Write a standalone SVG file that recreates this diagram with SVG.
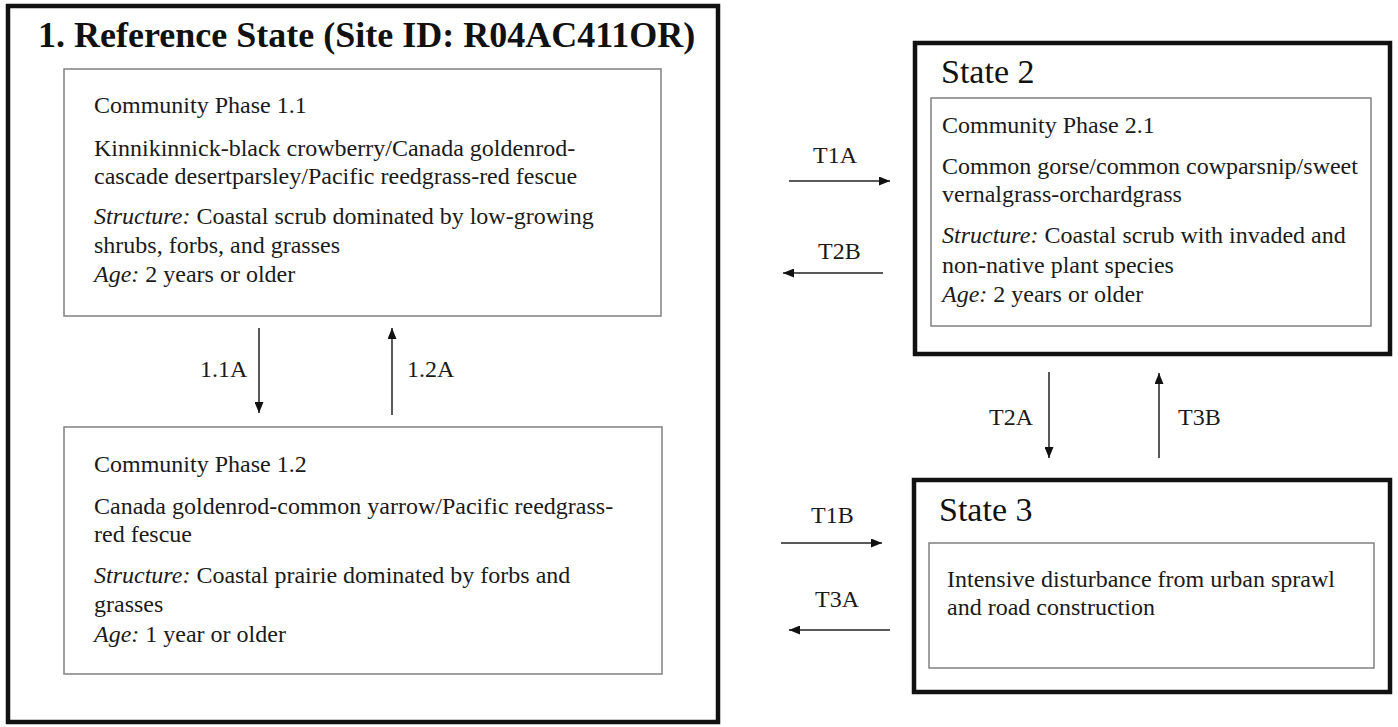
<svg xmlns="http://www.w3.org/2000/svg" width="1398" height="727" viewBox="0 0 1398 727" font-family="Liberation Serif, serif">
<style>
.state{fill:none;stroke:#111;stroke-width:4.5}
.phase{fill:#fff;stroke:#808080;stroke-width:1.5}
.conn line{stroke:#222;stroke-width:1.5}
</style>
<defs>
<marker id="ah" markerUnits="userSpaceOnUse" markerWidth="11" markerHeight="9" refX="11" refY="4.5" orient="auto">
<path d="M0,0 L11,4.5 L0,9 z" fill="#111"/>
</marker>
</defs>
<rect width="1398" height="727" fill="#fff"/>

<g id="state1">
<rect class="state" x="8" y="6" width="710" height="716" stroke-width="5"/>
<text x="38" y="47" font-family="Liberation Serif, serif" font-size="36" font-weight="bold" fill="#111">1. Reference State (Site ID: R04AC411OR)</text>
</g>

<g id="phase1-1" font-family="Liberation Serif, serif" font-size="24" fill="#1a1a1a">
<rect class="phase" x="64" y="69" width="597" height="247"/>
<text x="94" y="113" font-family="Liberation Serif, serif">Community Phase 1.1</text>
<text x="94" y="156" font-family="Liberation Serif, serif">Kinnikinnick-black crowberry/Canada goldenrod-</text>
<text x="94" y="184" font-family="Liberation Serif, serif">cascade desertparsley/Pacific reedgrass-red fescue</text>
<text x="94" y="224" font-family="Liberation Serif, serif"><tspan font-style="italic">Structure:</tspan> Coastal scrub dominated by low-growing</text>
<text x="94" y="253" font-family="Liberation Serif, serif">shrubs, forbs, and grasses</text>
<text x="94" y="282" font-family="Liberation Serif, serif"><tspan font-style="italic">Age:</tspan> 2 years or older</text>
</g>

<g id="phase1-2" font-family="Liberation Serif, serif" font-size="24" fill="#1a1a1a">
<rect class="phase" x="64" y="427" width="598" height="247"/>
<text x="94" y="472" font-family="Liberation Serif, serif">Community Phase 1.2</text>
<text x="94" y="514" font-family="Liberation Serif, serif">Canada goldenrod-common yarrow/Pacific reedgrass-</text>
<text x="94" y="542" font-family="Liberation Serif, serif">red fescue</text>
<text x="94" y="583" font-family="Liberation Serif, serif"><tspan font-style="italic">Structure:</tspan> Coastal prairie dominated by forbs and</text>
<text x="94" y="612" font-family="Liberation Serif, serif">grasses</text>
<text x="94" y="642" font-family="Liberation Serif, serif"><tspan font-style="italic">Age:</tspan> 1 year or older</text>
</g>

<g id="state2" font-family="Liberation Serif, serif" font-size="24" fill="#1a1a1a">
<rect class="state" x="915" y="43" width="475" height="311"/>
<text x="941" y="83" font-family="Liberation Serif, serif" font-size="34" fill="#111">State 2</text>
<rect class="phase" x="931" y="98" width="440" height="228"/>
<text x="942" y="133" font-family="Liberation Serif, serif">Community Phase 2.1</text>
<text x="942" y="174" font-family="Liberation Serif, serif">Common gorse/common cowparsnip/sweet</text>
<text x="942" y="202" font-family="Liberation Serif, serif">vernalgrass-orchardgrass</text>
<text x="942" y="243" font-family="Liberation Serif, serif"><tspan font-style="italic">Structure:</tspan> Coastal scrub with invaded and</text>
<text x="942" y="273" font-family="Liberation Serif, serif">non-native plant species</text>
<text x="942" y="302" font-family="Liberation Serif, serif"><tspan font-style="italic">Age:</tspan> 2 years or older</text>
</g>

<g id="state3" font-family="Liberation Serif, serif" font-size="24" fill="#1a1a1a">
<rect class="state" x="914" y="480" width="476" height="212"/>
<text x="939" y="521" font-family="Liberation Serif, serif" font-size="34" fill="#111">State 3</text>
<rect class="phase" x="929" y="543" width="445" height="125"/>
<text x="947" y="587" font-family="Liberation Serif, serif">Intensive disturbance from urban sprawl</text>
<text x="947" y="615" font-family="Liberation Serif, serif">and road construction</text>
</g>

<g id="connectors" class="conn" marker-end="url(#ah)">
<line x1="259" y1="328" x2="259" y2="413"/>
<line x1="392" y1="415" x2="392" y2="328"/>
<line x1="789" y1="181" x2="890" y2="181"/>
<line x1="883" y1="273" x2="783" y2="273"/>
<line x1="1049" y1="372" x2="1049" y2="458"/>
<line x1="1159" y1="458" x2="1159" y2="373"/>
<line x1="781" y1="543" x2="882" y2="543"/>
<line x1="890" y1="630" x2="789" y2="630"/>
</g>

<g id="labels" font-family="Liberation Serif, serif" font-size="24" fill="#1a1a1a">
<text x="200" y="377" font-family="Liberation Serif, serif">1.1A</text>
<text x="407" y="377" font-family="Liberation Serif, serif">1.2A</text>
<text x="813" y="163" font-family="Liberation Serif, serif">T1A</text>
<text x="818" y="259" font-family="Liberation Serif, serif">T2B</text>
<text x="989" y="425" font-family="Liberation Serif, serif">T2A</text>
<text x="1178" y="425" font-family="Liberation Serif, serif">T3B</text>
<text x="811" y="523" font-family="Liberation Serif, serif">T1B</text>
<text x="815" y="607" font-family="Liberation Serif, serif">T3A</text>
</g>
</svg>
